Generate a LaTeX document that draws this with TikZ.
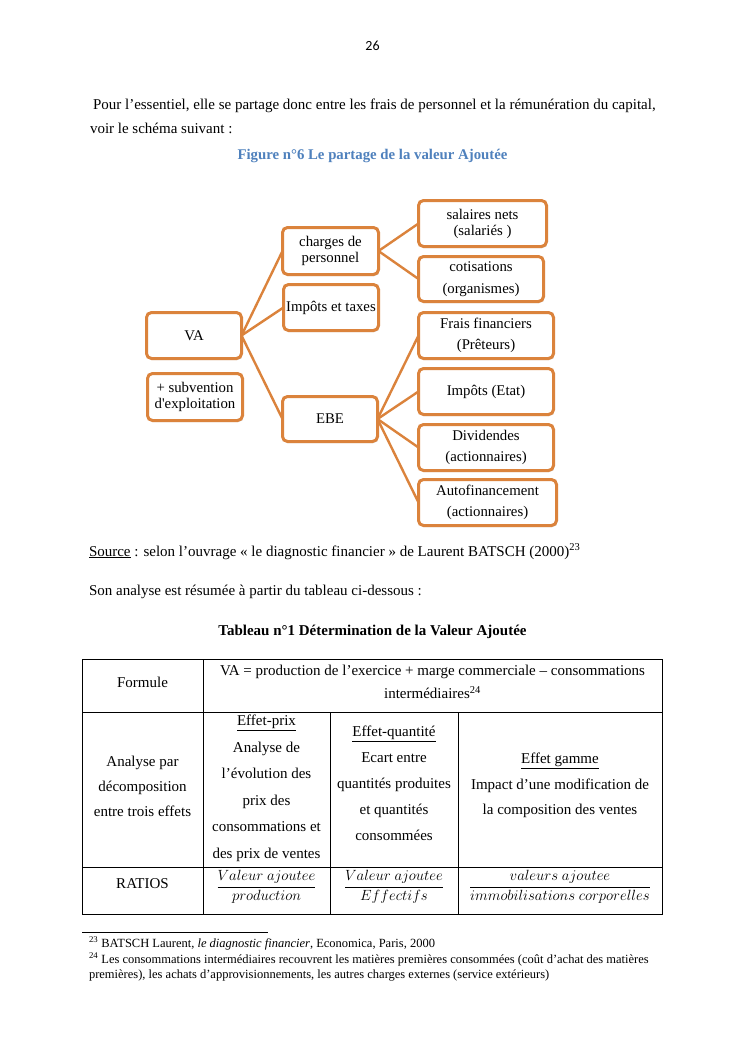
\documentclass[tikz,border=0pt]{standalone}
\usepackage{fix-cm}
\usepackage{fontspec}
\setmainfont{Liberation Serif}
\newfontfamily\calibrifont{Carlito}
\usetikzlibrary{shadows}
\definecolor{boxorange}{RGB}{219,131,60}
\definecolor{titleblue}{RGB}{79,129,189}
\begin{document}
\begin{tikzpicture}[x=1pt,y=-1pt,
  every node/.style={inner sep=0pt, outer sep=0pt},
  body/.style={font=\fontsize{15}{17}\selectfont, anchor=base west},
  boldtitle/.style={font=\fontsize{15}{17}\selectfont\bfseries, anchor=base},
  foot/.style={font=\fontsize{12.5}{14}\selectfont, anchor=base west},
  vbox/.style={draw=boxorange, line width=3pt, rounded corners=5pt, fill=white, align=center,
    drop shadow={shadow xshift=1pt, shadow yshift=-1.5pt, fill=black!30, opacity=0.5}},
  tight/.style={font=\fontsize{14.8}{16}\selectfont},
  loose/.style={font=\fontsize{14.8}{21.5}\selectfont},
  link/.style={draw=boxorange, line width=2.4pt},
  cell/.style={align=center, font=\fontsize{15}{26}\selectfont},
  grid/.style={line width=0.9pt}
]
\useasboundingbox (0,0) rectangle (745,1053);
\fill[white] (0,0) rectangle (745,1053);

% page text
\node[font=\calibrifont\fontsize{14}{16}\selectfont] (pnum) at (372.5,46) {26};
\node[body] (p1) at (93,109) {Pour l’essentiel, elle se partage donc entre les frais de personnel et la rémunération du capital,};
\node[body] (p2) at (90,133) {voir le schéma suivant :};
\node[boldtitle, font=\fontsize{14.8}{17}\selectfont\bfseries, text=titleblue] (fig) at (372.5,159) {Figure n°6 Le partage de la valeur Ajoutée};

% diagram boxes
\node[vbox, tight, minimum width=95, minimum height=46] (va) at (194,335.5) {VA};
\node[vbox, tight, minimum width=95, minimum height=47] (sub) at (195,397) {+ subvention\\d\textquotesingle exploitation};
\node[vbox, tight, minimum width=96, minimum height=47] (ch) at (330.5,251) {charges de\\personnel};
\node[vbox, tight, minimum width=95, minimum height=46] (it) at (331,307.5) {Impôts et taxes};
\node[vbox, tight, minimum width=95, minimum height=45] (ebe) at (330,419) {EBE};
\node[vbox, tight, minimum width=128, minimum height=46] (sal) at (482.5,223.5) {salaires nets\\(salariés )};
\node[vbox, loose, minimum width=125, minimum height=45] (cot) at (481,279) {cotisations\\(organismes)};
\node[vbox, loose, minimum width=135, minimum height=46] (ff) at (486,335.5) {Frais financiers\\(Prêteurs)};
\node[vbox, loose, minimum width=135, minimum height=46] (ie) at (486,391.5) {Impôts (Etat)};
\node[vbox, loose, minimum width=135, minimum height=46] (div) at (486,447.5) {Dividendes\\(actionnaires)};
\node[vbox, loose, minimum width=138, minimum height=46] (af) at (487.5,502.5) {Autofinancement\\(actionnaires)};

% connectors
\draw[link] (va.east) -- (ch.west);
\draw[link] (va.east) -- (it.west);
\draw[link] (va.east) -- (ebe.west);
\draw[link] (ch.east) -- (sal.west);
\draw[link] (ch.east) -- (cot.west);
\draw[link] (ebe.east) -- (ff.west);
\draw[link] (ebe.east) -- (ie.west);
\draw[link] (ebe.east) -- (div.west);
\draw[link] (ebe.east) -- (af.west);

% source lines
\node[body] (src) at (89,556) {\underline{Source} : selon l’ouvrage « le diagnostic financier » de Laurent BATSCH (2000)\textsuperscript{23}};
\node[body] (son) at (89,595) {Son analyse est résumée à partir du tableau ci-dessous :};
\node[boldtitle] (tab) at (372.5,635) {Tableau n°1 Détermination de la Valeur Ajoutée};

% table grid
\draw[grid] (82,659) rectangle (662,914);
\draw[grid] (82,712) -- (662,712);
\draw[grid] (82,867) -- (662,867);
\draw[grid] (203,659) -- (203,914);
\draw[grid] (330,712) -- (330,914);
\draw[grid] (458,712) -- (458,914);

% table cells
\node[cell] (formule) at (142.5,682) {Formule};
\node[cell, font=\fontsize{15}{23}\selectfont] (vaf) at (432.5,682) {VA = production de l’exercice + marge commerciale – consommations\\intermédiaires\textsuperscript{24}};
\node[cell, font=\fontsize{15}{25}\selectfont] (ana) at (142.5,786.5) {Analyse par\\décomposition\\entre trois effets};
\node[cell, font=\fontsize{15}{26.5}\selectfont] (eprix) at (266.5,788.5) {\underline{Effet-prix}\\Analyse de\\l’évolution des\\prix des\\consommations et\\des prix de ventes};
\node[cell] (equant) at (394,783.5) {\underline{Effet-quantité}\\Ecart entre\\quantités produites\\et quantités\\consommées};
\node[cell, font=\fontsize{15}{25.5}\selectfont] (egamme) at (560,785.5) {\underline{Effet gamme}\\Impact d’une modification de\\la composition des ventes};
\node[cell] (ratios) at (142.5,884) {RATIOS};
\node[font=\fontsize{14.8}{18}\selectfont] (r1) at (266.5,887) {$\displaystyle\frac{Valeur\ ajoutee}{production}$};
\node[font=\fontsize{14.8}{18}\selectfont] (r2) at (394,887) {$\displaystyle\frac{Valeur\ ajoutee}{Effectifs}$};
\node[font=\fontsize{14.8}{18}\selectfont] (r3) at (560,887) {$\displaystyle\frac{valeurs\ ajoutee}{immobilisations\ corporelles}$};

% footnotes
\draw[line width=0.8pt] (82,932.5) -- (268,932.5);
\node[foot] (fn1) at (89,947.5) {\textsuperscript{23} BATSCH Laurent, \textit{le diagnostic financier}, Economica, Paris, 2000};
\node[foot] (fn2) at (89,963) {\textsuperscript{24} Les consommations intermédiaires recouvrent les matières premières consommées (coût d’achat des matières};
\node[foot] (fn3) at (89,978) {premières), les achats d’approvisionnements, les autres charges externes (service extérieurs)};
\end{tikzpicture}
\end{document}
